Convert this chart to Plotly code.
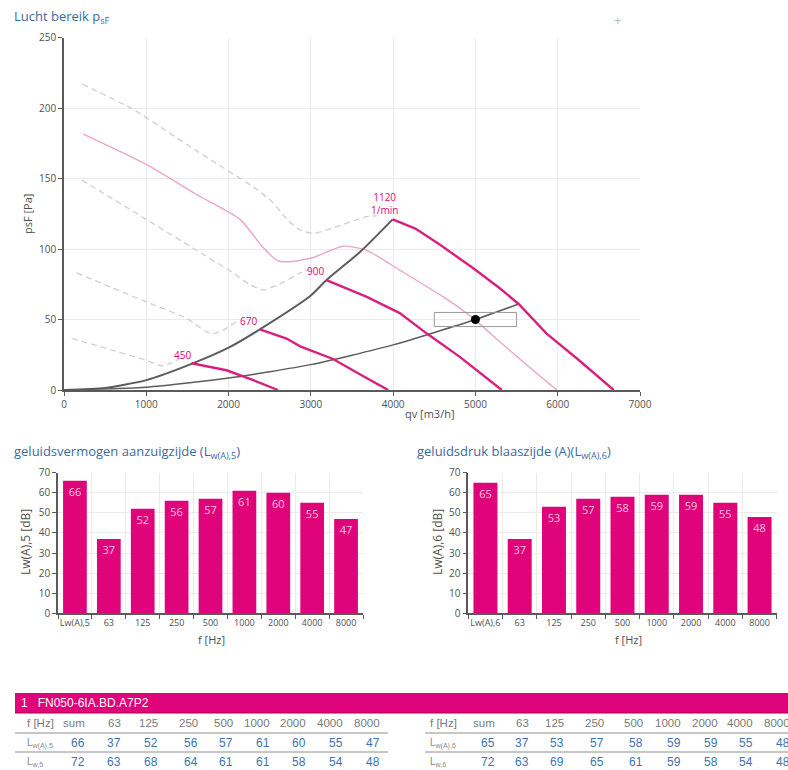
import plotly.graph_objects as go

W, H = 788, 770
def px(x): return x / W
def py(y): return 1 - y / H

# ---------------- data: fan chart ----------------
sys_hi_q = [0, 500, 1000, 1550, 2000, 2380, 3000, 3190, 3600, 3994]
sys_hi_p = [0, 1.5, 7, 18.5, 30, 43, 67, 78, 98, 121]
sys_lo_q = [0, 1000, 2000, 3000, 4000, 5000, 5525]
sys_lo_p = [0, 2, 8.5, 18, 32, 50, 61]

n1120_q = [3994, 4080, 4270, 4570, 4970, 5300, 5525, 5865, 6230, 6680]
n1120_p = [121, 119, 114.5, 103, 86.5, 72, 61, 40, 22.5, 0]
n900_q = [3190, 3680, 4080, 4410, 4810, 5320]
n900_p = [78, 66, 54.5, 40, 23.5, 0]
n670_q = [2380, 2705, 2870, 3270, 3600, 3940]
n670_p = [43, 36.5, 31, 22, 11, 0]
n450_q = [1550, 1975, 2300, 2600]
n450_p = [19, 14, 7, 0]

limit_q = [235, 1000, 1600, 2140, 2420, 2590, 2750, 3030, 3390, 3680, 4080, 4610, 4970, 5300, 5660, 5990]
limit_p = [181.5, 160, 139, 121, 101, 92, 91, 94, 102, 99, 85, 66, 51, 34, 16, 0]

d1_q = [220, 840, 1600, 2300, 2540, 2710, 2870, 3030, 3270, 3680, 3800]
d1_p = [217, 199, 170, 144, 133, 121, 113.5, 111, 115, 123, 123.5]
d2_q = [214, 1000, 1600, 2057, 2250, 2422, 2650, 2868, 3000]
d2_p = [149, 121, 99.5, 83, 75, 71, 76, 83, 86]
d3_q = [153, 1000, 1500, 1734, 1815, 1950, 2057, 2140]
d3_p = [83, 62.5, 50.5, 41, 40, 43, 47, 50]
d4_q = [93, 600, 1000, 1126, 1194, 1300, 1430]
d4_p = [36.7, 28, 21, 18, 17.2, 19, 23]

op_q = [5000]
op_p = [50]
op_box_q = [4500, 5500]
op_box_p = [45, 55]

speed_labels = ["1120<br>1/min", "900", "670", "450"]
speed_label_q = [3900, 3062, 2248, 1440]
speed_label_p = [132, 84.5, 49, 25]

# ---------------- data: sound bars ----------------
cats5 = ["Lw(A),5", "63", "125", "250", "500", "1000", "2000", "4000", "8000"]
lw5 = [66, 37, 52, 56, 57, 61, 60, 55, 47]
cats6 = ["Lw(A),6", "63", "125", "250", "500", "1000", "2000", "4000", "8000"]
lw6 = [65, 37, 53, 57, 58, 59, 59, 55, 48]

# ---------------- data: table ----------------
tbl_head = ["sum", "63", "125", "250", "500", "1000", "2000", "4000", "8000"]
tbl_lwa5 = [66, 37, 52, 56, 57, 61, 60, 55, 47]
tbl_lw5 = [72, 63, 68, 64, 61, 61, 58, 54, 48]
tbl_lwa6 = [65, 37, 53, 57, 58, 59, 59, 55, 48]
tbl_lw6 = [72, 63, 69, 65, 61, 59, 58, 54, 48]
model_name = "1   FN050-6IA.BD.A7P2"

MAG = "#e0047a"
FAN = "#d8207f"
GRID = "#ebebeb"
AX = "#5a5a5a"
TXT = "#505050"
BLUE = "#3c6aa0"
FONT = "Open Sans"
TFONT = "Liberation Sans"

fig = go.Figure()

def line(q, p, color, width, dash=None, shape="linear"):
    fig.add_trace(go.Scatter(x=q, y=p, mode="lines",
                             line=dict(color=color, width=width, dash=dash, shape=shape, smoothing=0.6),
                             hoverinfo="skip", showlegend=False, xaxis="x", yaxis="y"))

for q, p in [(d1_q, d1_p), (d2_q, d2_p), (d3_q, d3_p), (d4_q, d4_p)]:
    line(q, p, "#cfcfcf", 1.3, dash="6px,4px", shape="spline")
line(limit_q, limit_p, "#eaa6c8", 1.4, shape="spline")
line(sys_hi_q, sys_hi_p, "#5c5c5c", 2.0, shape="spline")
line(sys_lo_q, sys_lo_p, "#5c5c5c", 1.5, shape="spline")
for q, p in [(n1120_q, n1120_p), (n900_q, n900_p), (n670_q, n670_p), (n450_q, n450_p)]:
    line(q, p, FAN, 2.4)

fig.add_shape(type="rect", xref="x", yref="y", x0=op_box_q[0], x1=op_box_q[1],
              y0=op_box_p[0], y1=op_box_p[1], line=dict(color="#9a9a9a", width=1))
fig.add_trace(go.Scatter(x=op_q, y=op_p, mode="markers", marker=dict(color="black", size=9),
                         hoverinfo="skip", showlegend=False, xaxis="x", yaxis="y"))

for t, q, p in zip(speed_labels, speed_label_q, speed_label_p):
    fig.add_annotation(x=q, y=p, xref="x", yref="y", text=t, showarrow=False,
                       font=dict(family=FONT, size=10, color=MAG), align="center")

# bars
for cats, vals, xa, ya in [(cats5, lw5, "x2", "y2"), (cats6, lw6, "x3", "y3")]:
    fig.add_trace(go.Bar(x=cats, y=vals, xaxis=xa, yaxis=ya, marker=dict(color=MAG, line=dict(width=0)),
                         text=[str(v) for v in vals], textposition="inside", insidetextanchor="end",
                         textfont=dict(family=FONT, size=11, color="#f7c6df"), textangle=0,
                         hoverinfo="skip", showlegend=False, cliponaxis=False))

axis_common = dict(showline=True, linecolor=AX, linewidth=1.5, ticks="outside", ticklen=4,
                   tickcolor=AX, tickfont=dict(family=FONT, size=10, color=TXT),
                   gridcolor=GRID, zeroline=False, automargin=False)
bar_x = dict(axis_common)
bar_x["tickfont"] = dict(family=FONT, size=9, color=TXT)

fig.update_layout(
    width=W, height=H, margin=dict(l=0, r=0, t=0, b=0, pad=0, autoexpand=False),
    paper_bgcolor="white", plot_bgcolor="white", bargap=0.3, showlegend=False,
    xaxis=dict(domain=[px(64), px(640)], range=[0, 7000], anchor="y",
               tickvals=[0, 1000, 2000, 3000, 4000, 5000, 6000, 7000], **axis_common),
    yaxis=dict(domain=[py(390), py(37.5)], range=[0, 250], anchor="x",
               tickvals=[0, 50, 100, 150, 200, 250], **axis_common),
    xaxis2=dict(domain=[px(58), px(363)], anchor="y2", type="category", tickson="boundaries",
                tickangle=0, **bar_x),
    yaxis2=dict(domain=[py(613.3), py(472.7)], range=[0, 70], anchor="x2", dtick=10, **axis_common),
    xaxis3=dict(domain=[px(468.3), px(776.7)], anchor="y3", type="category", tickson="boundaries",
                tickangle=0, **bar_x),
    yaxis3=dict(domain=[py(613.3), py(472.7)], range=[0, 70], anchor="x3", dtick=10, **axis_common),
)

def pann(x, y, text, size=11, color=TXT, xanchor="center", family=FONT, angle=0):
    fig.add_annotation(x=px(x), y=py(y), xref="paper", yref="paper", text=text, showarrow=False,
                       xanchor=xanchor, yanchor="middle", textangle=angle,
                       font=dict(family=family, size=size, color=color))

# titles
pann(12, 17, "Lucht bereik p<sub>sF</sub>", size=13, color=BLUE, xanchor="left")
pann(617, 20, "+", size=13, color="#b8b8b8")
pann(12, 452, "geluidsvermogen aanzuigzijde (L<sub>w(A),5</sub>)", size=13, color=BLUE, xanchor="left")
pann(415, 452, "geluidsdruk blaaszijde (A)(L<sub>w(A),6</sub>)", size=13, color=BLUE, xanchor="left")

# axis titles
pann(27, 214, "psF [Pa]", size=11, angle=-90)
pann(430, 414, "qv [m3/h]", size=11)
pann(25, 542, "Lw(A),5 [dB]", size=12, angle=-90)
pann(212, 639, "f [Hz]", size=11)
pann(437, 542, "Lw(A),6 [dB]", size=12, angle=-90)
pann(628, 639, "f [Hz]", size=11)

# table
fig.add_shape(type="rect", xref="paper", yref="paper", x0=px(15), x1=px(790), y0=py(713), y1=py(693),
              fillcolor=MAG, line=dict(width=0))
fig.add_shape(type="line", xref="paper", yref="paper", x0=px(15), x1=px(790), y0=py(713), y1=py(713),
              line=dict(color="#a8004f", width=1))
pann(19, 703, model_name, size=12, color="white", xanchor="left", family=TFONT)

tables = [
    (25, [87, 123, 160, 200, 235, 272, 308, 345, 382], 15, 388, tbl_lwa5, tbl_lw5, "5"),
    (428, [497, 531, 566, 606, 645, 683, 720, 755, 792], 425, 790, tbl_lwa6, tbl_lw6, "6"),
]
for lx, cols, l0, l1, r1, r2, sfx in tables:
    pann(lx, 723, "f [Hz]", size=11.5, color="#7a7a7a", xanchor="left", family=TFONT)
    pann(lx, 743, "L<sub>w(A)," + sfx + "</sub>", size=10, color="#8a8a8a", xanchor="left", family=TFONT)
    pann(lx, 762, "L<sub>w," + sfx + "</sub>", size=10, color="#8a8a8a", xanchor="left", family=TFONT)
    for cx, h, a, b in zip(cols, tbl_head, r1, r2):
        pann(cx, 723, h, size=11.5, color="#7a7a7a", xanchor="right", family=TFONT)
        pann(cx, 743, str(a), size=12, color="#3f73ad", xanchor="right", family=TFONT)
        pann(cx, 762, str(b), size=12, color="#3f73ad", xanchor="right", family=TFONT)
    for yl in [733, 752]:
        fig.add_shape(type="line", xref="paper", yref="paper", x0=px(l0), x1=px(l1), y0=py(yl), y1=py(yl),
                      line=dict(color="#b5b5b5", width=1.5))

post = ("document.body.style.margin='0';document.body.style.overflow='hidden';")
fig.write_html("out.html", config={"displayModeBar": False}, post_script=post)
